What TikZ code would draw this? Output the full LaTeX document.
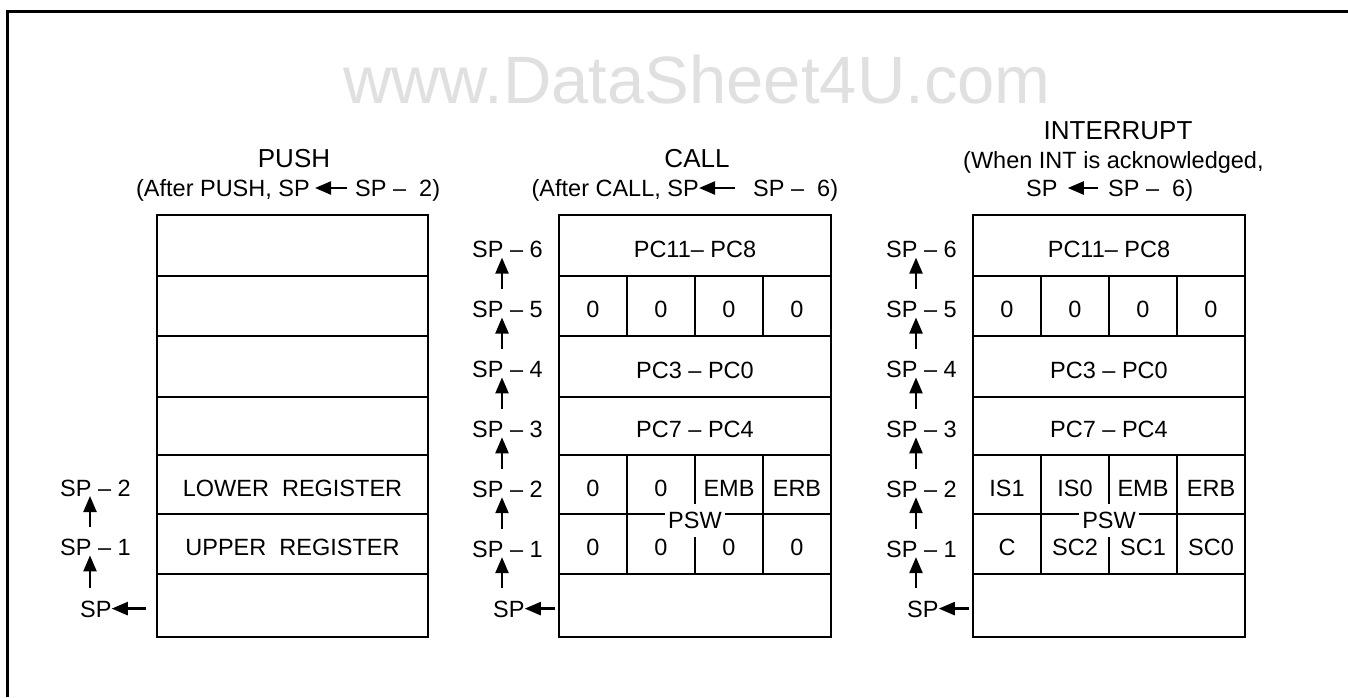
\documentclass[tikz,border=0pt]{standalone}
\usepackage{fontspec}
\setmainfont{Liberation Sans}
\usetikzlibrary{arrows.meta,calc}
\definecolor{wmgray}{RGB}{224,224,224}
\begin{document}
\begin{tikzpicture}[x=1pt,y=-1pt,
  box/.style={line width=2.3pt},
  lbl/.style={inner sep=0pt, anchor=base west, font=\fontsize{23.5}{28}\selectfont},
  cell/.style={inner sep=0pt, anchor=base, font=\fontsize{23.5}{28}\selectfont},
  ttl/.style={inner sep=0pt, anchor=base, font=\fontsize{26}{30}\selectfont},
  sub/.style={inner sep=0pt, font=\fontsize{23.5}{28}\selectfont},
  pswlbl/.style={fill=white, inner xsep=3pt, inner ysep=8pt, anchor=base, font=\fontsize{23.5}{28}\selectfont},
  arr/.style={line width=2.3pt, -{Triangle[length=16pt,width=13pt]}},
  wmtext/.style={inner sep=0pt, anchor=base west, text=wmgray, font=\fontsize{67}{72}\selectfont}
]
\useasboundingbox (0,0) rectangle (1348,697);
% frame
\draw[line width=2.6pt] (7.5,697) -- (7.5,11.2) -- (1348,11.2);
% watermark
\node[wmtext] (wm) at (343,103.3) {www.DataSheet4U.com};

% ================= PUSH =================
\node[ttl] (pushT) at (294,167.3) {PUSH};
\node[sub, anchor=base east] (pushL) at (310,196.4) {(After PUSH, SP};
\node[sub, anchor=base west] (pushR) at (355,196.4) {SP – \ 2)};
\draw[arr] ($(pushR.base west)+(-8,-8.4)$) -- ($(pushL.base east)+(5,-8.4)$);

\draw[box] (157,215) rectangle (428,637);
\foreach \y in {276,336,397,455,514,574} \draw[box] (157,\y) -- (428,\y);
\node[cell] (pLo) at (292.5,496) {LOWER\ \ REGISTER};
\node[cell] (pUp) at (292.5,555.4) {UPPER\ \ REGISTER};

\node[lbl] (ps2) at (60,496) {SP – 2};
\node[lbl] (ps1) at (60,555.4) {SP – 1};
\node[lbl] (ps0) at (80,617) {SP};
\foreach \i/\j in {0/1,1/2}
  \draw[arr] ([xshift=30pt,yshift=12pt]ps\j.base west |- ps\i.north) -- ([xshift=30pt]ps\j.base west);
\draw[arr] ($(ps0.base east)+(34,-8.4)$) -- ($(ps0.base east)+(0,-8.4)$);

% ================= CALL =================
\node[ttl] (callT) at (697,167.3) {CALL};
\node[sub, anchor=base east] (callL) at (699,196.4) {(After CALL, SP};
\node[sub, anchor=base west] (callR) at (753,196.4) {SP – \ 6)};
\draw[arr] ($(callR.base west)+(-18,-8.4)$) -- ($(callL.base east)+(0,-8.4)$);

\draw[box] (559,215) rectangle (831,637);
\foreach \y in {276,336,397,455,514,574} \draw[box] (559,\y) -- (831,\y);
\foreach \x in {627,695,763} {
  \draw[box] (\x,276) -- (\x,336);
  \draw[box] (\x,455) -- (\x,574);
}
\node[cell] (cr1) at (695,257) {PC11– PC8};
\foreach \t [count=\k] in {0,0,0,0} \node[cell] (cz\k) at ({525+68*\k},317.4) {\t};
\node[cell] (cr3) at (695,378) {PC3 – PC0};
\node[cell] (cr4) at (695,437.4) {PC7 – PC4};
\foreach \t [count=\k] in {0,0,EMB,ERB} \node[cell] (cp\k) at ({525+68*\k},496) {\t};
\foreach \t [count=\k] in {0,0,0,0} \node[cell] (cq\k) at ({525+68*\k},555.4) {\t};
\node[pswlbl] (cpsw) at (695,528.4) {PSW};

\foreach \i in {1,...,6} \node[lbl] (cs\i) at (472,{617-59.9*\i}) {SP – \i};
\node[lbl] (cs0) at (493,617) {SP};
\foreach \i/\j in {0/1,1/2,2/3,3/4,4/5,5/6}
  \draw[arr] ([xshift=30pt,yshift=12pt]cs\j.base west |- cs\i.north) -- ([xshift=30pt]cs\j.base west);
\draw[arr] ($(cs0.base east)+(30,-8.4)$) -- ($(cs0.base east)+(0,-8.4)$);

% ================= INTERRUPT =================
\node[ttl] (intT) at (1118,139.3) {INTERRUPT};
\node[sub, anchor=base west] (intM) at (963,168.4) {(When INT is acknowledged,};
\node[sub, anchor=base west] (intL) at (1026,196.4) {SP};
\node[sub, anchor=base west] (intR) at (1108,196.4) {SP – \ 6)};
\draw[arr] ($(intR.base west)+(-10,-8.4)$) -- ($(intL.base east)+(10,-8.4)$);

\draw[box] (973,215) rectangle (1245,637);
\foreach \y in {276,336,397,455,514,574} \draw[box] (973,\y) -- (1245,\y);
\foreach \x in {1041,1109,1177} {
  \draw[box] (\x,276) -- (\x,336);
  \draw[box] (\x,455) -- (\x,574);
}
\node[cell] (ir1) at (1109,257) {PC11– PC8};
\foreach \t [count=\k] in {0,0,0,0} \node[cell] (iz\k) at ({939+68*\k},317.4) {\t};
\node[cell] (ir3) at (1109,378) {PC3 – PC0};
\node[cell] (ir4) at (1109,437.4) {PC7 – PC4};
\foreach \t [count=\k] in {IS1,IS0,EMB,ERB} \node[cell] (ip\k) at ({939+68*\k},496) {\t};
\foreach \t [count=\k] in {C,SC2,SC1,SC0} \node[cell] (iq\k) at ({939+68*\k},555.4) {\t};
\node[pswlbl] (ipsw) at (1109,528.4) {PSW};

\foreach \i in {1,...,6} \node[lbl] (is\i) at (886,{617-59.9*\i}) {SP – \i};
\node[lbl] (is0) at (907,617) {SP};
\foreach \i/\j in {0/1,1/2,2/3,3/4,4/5,5/6}
  \draw[arr] ([xshift=30pt,yshift=12pt]is\j.base west |- is\i.north) -- ([xshift=30pt]is\j.base west);
\draw[arr] ($(is0.base east)+(30,-8.4)$) -- ($(is0.base east)+(0,-8.4)$);
\end{tikzpicture}
\end{document}
